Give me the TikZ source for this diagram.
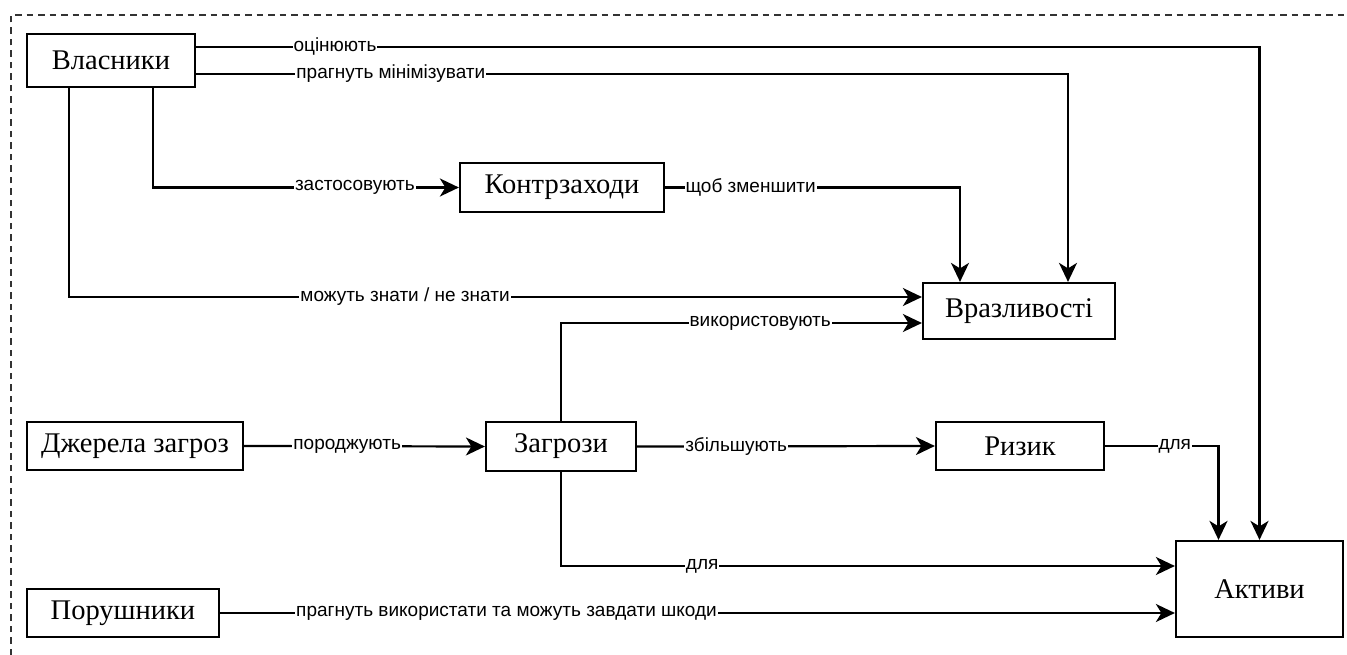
\documentclass[tikz,border=0pt]{standalone}
\usepackage{fontspec}
\setmainfont{Liberation Serif}
\newfontfamily\lblfont{Liberation Sans}
\usetikzlibrary{arrows.meta}

\tikzset{
  box/.style={draw, line width=2.2pt, inner sep=0pt, fill=white,
    font=\fontsize{28.5}{31}\selectfont},
  link/.style={line width=2.2pt, line join=miter},
  arr/.style={link, -{Stealth[length=19pt, width=18pt, inset=5.5pt]}},
  lbl/.style={fill=white, inner sep=1pt, text=black,
    font=\lblfont\fontsize{19}{21}\selectfont},
  frame/.style={draw=black!80, line width=1.6pt, dash pattern=on 6.5pt off 5pt}
}

\begin{document}
\begin{tikzpicture}[x=1pt, y=-1pt]
  \useasboundingbox (0,0) rectangle (1347,655);

  % outer dashed boundary
  \draw[frame] (11,655) -- (11,15) -- (1347,15);

  % entities
  \node[box, minimum width=168pt, minimum height=53pt] (vl) at (111,60.5) {Власники};
  \node[box, minimum width=204pt, minimum height=49pt] (kz) at (562,187.5) {Контрзаходи};
  \node[box, minimum width=192pt, minimum height=56pt] (vr) at (1019,311) {Вразливості};
  \node[box, minimum width=216pt, minimum height=48pt] (dz) at (135,446) {Джерела загроз};
  \node[box, minimum width=150pt, minimum height=49pt] (zg) at (561,446.5) {Загрози};
  \node[box, minimum width=168pt, minimum height=48pt] (rz) at (1020,446) {Ризик};
  \node[box, minimum width=167pt, minimum height=96pt] (ak) at (1259.5,589) {Активи};
  \node[box, minimum width=192pt, minimum height=48pt] (pr) at (123,613) {Порушники};

  % relations of the owners
  \draw[arr] ([yshift=13.5pt]vl.east) -| (ak.north)
    node[lbl, pos=0.0653] {оцінюють};
  \draw[arr] ([yshift=-13.5pt]vl.east) -| ([xshift=49pt]vr.north)
    node[lbl, pos=0.1117] {прагнуть мінімізувати};
  \draw[arr] ([xshift=42pt]vl.south) |- (kz.west)
    node[lbl, pos=0.83] {застосовують};
  \draw[arr] ([xshift=-42pt]vl.south) |- ([yshift=14pt]vr.west)
    node[lbl, pos=0.697] {можуть знати / не знати};

  % countermeasures
  \draw[arr] (kz.east) -| ([xshift=-59pt]vr.north)
    node[lbl, pos=0.145] {щоб зменшити};

  % threats
  \draw[arr] (zg.north) |- ([yshift=-12pt]vr.west)
    node[lbl, pos=0.776] {використовують};
  \draw[arr] (dz.east) -- (zg.west)
    node[lbl, pos=0.428] {породжують};
  \draw[arr] (zg.east) -- (rz.west)
    node[lbl, pos=0.333] {збільшують};
  \draw[arr] (zg.south) |- ([yshift=23pt]ak.west)
    node[lbl, pos=0.615] {для};

  % risk and threat agents
  \draw[arr] (rz.east) -| ([xshift=-41pt]ak.north)
    node[lbl, pos=0.307] {для};
  \draw[arr] (pr.east) -- (pr.east -| ak.west)
    node[lbl, pos=0.30] {прагнуть використати та можуть завдати шкоди};
\end{tikzpicture}
\end{document}
